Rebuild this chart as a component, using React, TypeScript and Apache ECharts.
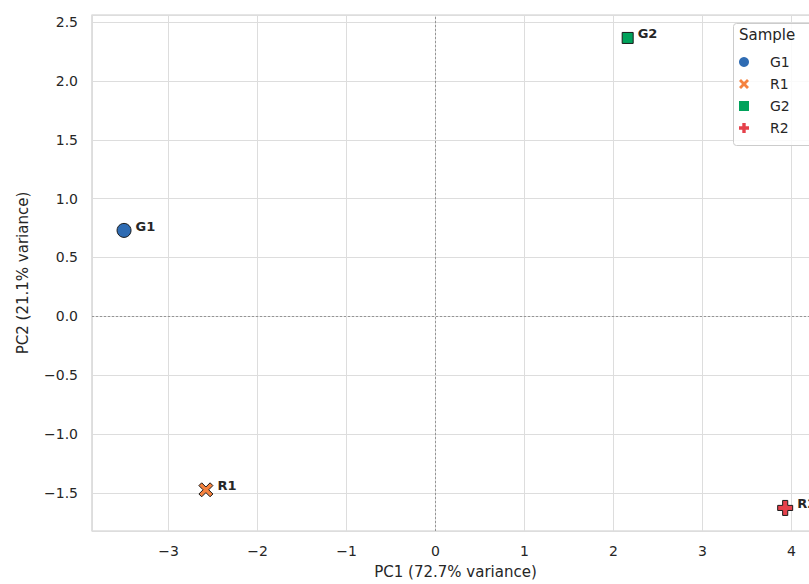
import React, { useEffect, useRef } from "react";
import * as echarts from "echarts";

const samples = ["G1", "R1", "G2", "R2"];
const pc1 = [-3.5, -2.58, 2.16, 3.93];
const pc2 = [0.73, -1.474, 2.365, -1.628];
const colors = ["#2f6cb3", "#f5823f", "#00a25b", "#e5414b"];
const symbols = [
  "circle",
  "path://M0,2 L2,0 L5,3 L8,0 L10,2 L7,5 L10,8 L8,10 L5,7 L2,10 L0,8 L3,5 Z",
  "path://M0,0 H10 V10 H0 Z",
  "path://M3.3,0 H6.7 V3.3 H10 V6.7 H6.7 V10 H3.3 V6.7 H0 V3.3 H3.3 Z",
];
const symbolSizes = [14, 14, 11, 15];
const xTitle = "PC1 (72.7% variance)";
const yTitle = "PC2 (21.1% variance)";
const legendTitle = "Sample";

const FONT = "DejaVu Sans";
const minus = (s: string) => s.replace("-", "\u2212");

export default function App() {
  const ref = useRef<HTMLDivElement>(null);
  useEffect(() => {
    if (!ref.current) return;
    const chart = echarts.init(ref.current, undefined, { renderer: "svg" });
    const series: any[] = samples.map((name, i) => ({
      name,
      type: "scatter",
      data: [[pc1[i], pc2[i]]],
      symbol: symbols[i],
      symbolSize: symbolSizes[i],
      symbolKeepAspect: true,
      itemStyle: { color: colors[i], borderColor: "#1a1a1a", borderWidth: 1, opacity: 1 },
      label: {
        show: true,
        formatter: name,
        position: "right",
        distance: 5,
        offset: [-1, -4],
        fontFamily: FONT,
        fontWeight: "bold",
        fontSize: 13,
        color: "#262626",
      },
      z: 5,
      markLine:
        i === 0
          ? {
              silent: true,
              symbol: "none",
              label: { show: false },
              lineStyle: { color: "#8c8c8c", type: [2, 2], width: 0.9 },
              data: [{ xAxis: 0 }, { yAxis: 0 }],
              z: 1,
            }
          : undefined,
    }));
    chart.setOption({
      animation: false,
      backgroundColor: "#ffffff",
      textStyle: { fontFamily: FONT },
      grid: {
        left: 92,
        top: 15,
        right: 10,
        bottom: 42,
        show: true,
        borderColor: "#cccccc",
        borderWidth: 1.2,
      },
      xAxis: {
        type: "value",
        min: -3.86,
        max: 4.31,
        splitNumber: 8,
        name: xTitle,
        nameLocation: "middle",
        nameGap: 33,
        nameTextStyle: { fontSize: 15, color: "#262626", fontFamily: FONT },
        axisLine: { show: false },
        axisTick: { show: false },
        axisLabel: {
          fontSize: 14,
          color: "#262626",
          margin: 13,
          showMinLabel: false,
          showMaxLabel: false,
          formatter: (v: number) => minus(String(Math.round(v))),
        },
        splitLine: { show: true, lineStyle: { color: "#dddddd", width: 1 } },
      },
      yAxis: {
        type: "value",
        min: -1.824,
        max: 2.56,
        splitNumber: 9,
        name: yTitle,
        nameLocation: "middle",
        nameGap: 62,
        nameTextStyle: { fontSize: 15, color: "#262626", fontFamily: FONT },
        axisLine: { show: false },
        axisTick: { show: false },
        axisLabel: {
          fontSize: 14,
          color: "#262626",
          margin: 14,
          showMinLabel: false,
          showMaxLabel: false,
          formatter: (v: number) => minus(v.toFixed(1)),
        },
        splitLine: { show: true, lineStyle: { color: "#dddddd", width: 1 } },
      },
      legend: {
        data: samples,
        orient: "vertical",
        left: 734,
        top: 49,
        itemWidth: 42,
        itemHeight: 10,
        itemGap: 6,
        symbolKeepAspect: true,
        itemStyle: { borderWidth: 0 },
        textStyle: { fontSize: 14, color: "#262626", fontFamily: FONT, lineHeight: 16 },
        selectedMode: false,
        z: 20,
      },
      graphic: [
        {
          type: "rect",
          left: 733,
          top: 23,
          shape: { width: 100, height: 122, r: 3 },
          style: { fill: "rgba(255,255,255,0.85)", stroke: "#cccccc", lineWidth: 1 },
          z: 10,
        },
        {
          type: "text",
          left: 739,
          top: 27,
          style: { text: legendTitle, fontSize: 15, fill: "#262626", fontFamily: FONT },
          z: 11,
        },
      ],
      series,
    });
    return () => chart.dispose();
  }, []);
  return (
    <div style={{ position: "fixed", left: 0, top: 0, width: 809, height: 584, overflow: "hidden" }}>
      <div ref={ref} style={{ width: 829, height: 584 }} />
    </div>
  );
}
